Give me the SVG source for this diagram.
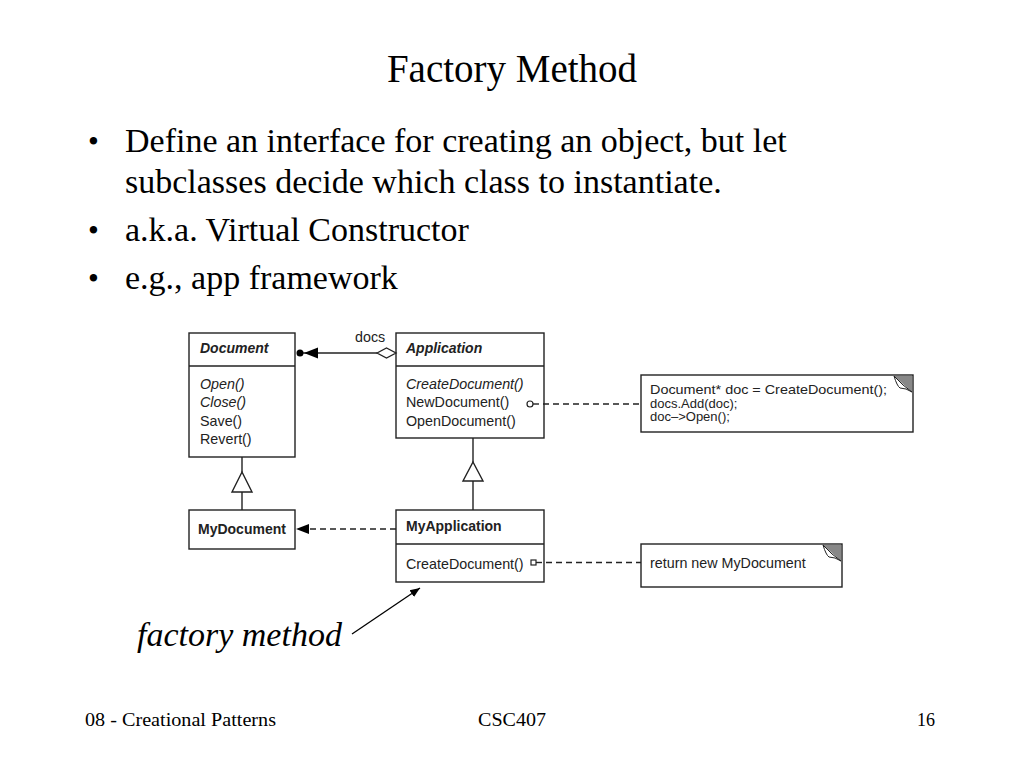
<svg xmlns="http://www.w3.org/2000/svg" width="1024" height="768" viewBox="0 0 1024 768">
<style>
.slide{font-family:"Liberation Serif","Times New Roman",serif;fill:#000}
.uml{font-family:"Liberation Sans",Arial,sans-serif;font-size:14.3px;fill:#222}
.b{font-weight:bold;font-size:14px}
.i{font-style:italic}
.note{font-size:13px}
.box{fill:#fff;stroke:#222;stroke-width:1.4}
.ln{fill:none;stroke:#222;stroke-width:1.4}
.dash{fill:none;stroke:#222;stroke-width:1.3;stroke-dasharray:6,4}
</style>
<defs>
<marker id="ah" viewBox="0 0 10 10" refX="10" refY="5" markerWidth="10" markerHeight="10" markerUnits="userSpaceOnUse" orient="auto">
<path d="M0,1 L10,5 L0,9 Z" fill="#000"/>
</marker>
</defs>
<rect width="1024" height="768" fill="#fff"/>
<text class="slide" x="512" y="82" font-size="39" text-anchor="middle">Factory Method</text>
<g class="slide" font-size="34">
<text x="88" y="152" font-size="31">•</text><text x="125" y="152">Define an interface for creating an object, but let</text>
<text x="125" y="193">subclasses decide which class to instantiate.</text>
<text x="88" y="241" font-size="31">•</text><text x="125" y="241">a.k.a. Virtual Constructor</text>
<text x="88" y="289" font-size="31">•</text><text x="125" y="289">e.g., app framework</text>
</g>
<g id="Document">
<rect class="box" x="189" y="333" width="106" height="124"/>
<line class="ln" x1="189" y1="366" x2="295" y2="366"/>
<text class="uml b i" x="200" y="353">Document</text>
<text class="uml i" x="200" y="389">Open()</text>
<text class="uml i" x="200" y="407">Close()</text>
<text class="uml" x="200" y="426">Save()</text>
<text class="uml" x="200" y="444">Revert()</text>
</g>
<g id="Application">
<rect class="box" x="396" y="333" width="148" height="105"/>
<line class="ln" x1="396" y1="366" x2="544" y2="366"/>
<text class="uml b i" x="406" y="353">Application</text>
<text class="uml i" x="406" y="389">CreateDocument()</text>
<text class="uml" x="406" y="407">NewDocument()</text>
<text class="uml" x="406" y="426">OpenDocument()</text>
</g>
<g id="MyDocument">
<rect class="box" x="189" y="510" width="106" height="39"/>
<text class="uml b" x="198" y="534">MyDocument</text>
</g>
<g id="MyApplication">
<rect class="box" x="396" y="510" width="148" height="72"/>
<line class="ln" x1="396" y1="544" x2="544" y2="544"/>
<text class="uml b" x="406" y="531">MyApplication</text>
<text class="uml" x="406" y="569">CreateDocument()</text>
</g>
<g id="note1">
<rect class="box" x="641" y="375" width="272" height="57"/>
<path d="M894,376 L912,376 L912,392 Z" fill="#888"/>
<path d="M894,376 Q897,386 900,388 Q906,388 912,392 L903,385 Z" fill="#fff" stroke="#222" stroke-width="1"/>
<text class="uml note" x="650" y="394" textLength="237" lengthAdjust="spacingAndGlyphs">Document* doc = CreateDocument();</text>
<text class="uml note" x="650" y="407.5">docs.Add(doc);</text>
<text class="uml note" x="650" y="421">doc–&gt;Open();</text>
</g>
<g id="note2">
<rect class="box" x="641" y="544" width="201" height="43"/>
<path d="M823,545 L841,545 L841,561 Z" fill="#888"/>
<path d="M823,545 Q826,555 829,557 Q835,557 841,561 L832,554 Z" fill="#fff" stroke="#222" stroke-width="1"/>
<text class="uml" font-size="13.9" x="650" y="568">return new MyDocument</text>
</g>
<g id="connectors">
<line class="ln" x1="303" y1="353" x2="377" y2="353"/>
<circle cx="300" cy="353" r="3.5" fill="#000"/>
<path d="M304,353 L318,347.5 L318,358.5 Z" fill="#000"/>
<path d="M377,353 L386.5,348 L396,353 L386.5,358 Z" fill="#fff" stroke="#222" stroke-width="1.3"/>
<text class="uml" x="355" y="342">docs</text>
<line class="ln" x1="242" y1="457" x2="242" y2="472"/>
<path d="M242,472 L252,492 L232,492 Z" fill="#fff" stroke="#222" stroke-width="1.4"/>
<line class="ln" x1="242" y1="492" x2="242" y2="510"/>
<line class="ln" x1="473" y1="438" x2="473" y2="462"/>
<path d="M473,462 L483,481 L463,481 Z" fill="#fff" stroke="#222" stroke-width="1.4"/>
<line class="ln" x1="473" y1="481" x2="473" y2="510"/>
<line class="dash" x1="396" y1="529" x2="308" y2="529"/>
<path d="M296,529 L309,524 L309,534 Z" fill="#000"/>
<circle cx="530" cy="404" r="3" fill="#fff" stroke="#222" stroke-width="1.2"/>
<line class="ln" x1="533" y1="404" x2="539" y2="404"/>
<line class="dash" x1="543" y1="404" x2="641" y2="404"/>
<rect x="531" y="560" width="5" height="5" fill="#fff" stroke="#222" stroke-width="1.2"/>
<line class="ln" x1="536" y1="562.5" x2="542" y2="562.5"/>
<line class="dash" x1="546" y1="562.5" x2="641" y2="562.5"/>
<line x1="352" y1="634" x2="420" y2="588" stroke="#000" stroke-width="1.3" marker-end="url(#ah)"/>
</g>
<text class="slide" x="137" y="646" font-size="34" font-style="italic">factory method</text>
<g class="slide" font-size="19">
<text x="85" y="726" textLength="191" lengthAdjust="spacingAndGlyphs">08 - Creational Patterns</text>
<text x="478" y="726" textLength="68" lengthAdjust="spacingAndGlyphs">CSC407</text>
<text x="917" y="726" textLength="18" lengthAdjust="spacingAndGlyphs">16</text>
</g>
</svg>
